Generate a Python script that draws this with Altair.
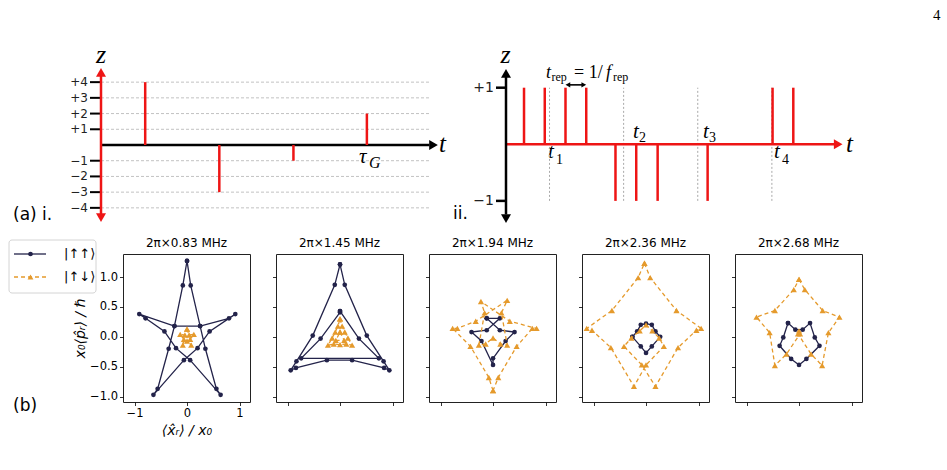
import altair as alt
import pandas as pd

NAVY = "#23234a"
ORANGE = "#e59a2c"
RED = "#ee1515"
SANS = "DejaVu Sans"
SERIF = "Liberation Serif"

# ---------------- (a) i.  one gate: kicks of integer strength ----------------
ki_time = [0.130, 0.348, 0.566, 0.782]
ki_amp = [4, -3, -1, 2]
ki_levels = [-4, -3, -2, -1, 1, 2, 3, 4]

# ---------------- (a) ii. unit kicks on the repetition grid ----------------
kii_time = [0.053, 0.114, 0.175, 0.236, 0.322, 0.383, 0.446, 0.593, 0.784, 0.845]
kii_amp = [1, 1, 1, 1, -1, -1, -1, -1, 1, 1]
kii_marks = [0.128, 0.346, 0.564, 0.782]
kii_levels = [-1, 1]

# ---------------- (b) phase-space trajectories ----------------
freqs = ["0.83", "1.45", "1.94", "2.36", "2.68"]

# |↑↑⟩ (x, y, segment)
uu_x = [
    [0, 0.07, 0.25, 0.35, 0.56, 0.64, 0.06, -0.21, -0.43, -0.79, -0.91, -0.24, 0.25, 0.80, 0.92,
     0.43, 0.20, -0.06, -0.64, -0.56, -0.35, -0.24, -0.08, 0],
    [0, 0.09, 0.51, 0.83, 0.94, 0.84, 0.23, -0.25, -0.84, -0.94, -0.83, -0.52, -0.10, 0,
     0, 0.36, 0.74, -0.74, -0.37, 0, 0],
    [-0.12, 0.13, 0.41, 0.24, 0.0, 0.0, -0.22, -0.41, -0.12, 0.13, -0.12],
    [-0.26, -0.17, -0.10, 0.0, 0.11, 0.18, 0.27, 0.11, 0.0, -0.10, -0.26],
    [-0.21, -0.07, 0.07, 0.21, 0.30, 0.39, 0.14, 0.0, -0.15, -0.37, -0.30, -0.21],
]
uu_y = [
    [1.27, 0.86, 0.18, -0.20, -0.87, -0.97, -0.39, -0.19, 0.09, 0.31, 0.38, 0.18, 0.18, 0.31, 0.38,
     0.09, -0.19, -0.39, -0.97, -0.87, -0.20, 0.18, 0.86, 1.27],
    [1.21, 0.87, 0.02, -0.41, -0.56, -0.52, -0.39, -0.39, -0.52, -0.56, -0.41, 0.02, 0.87, 1.21,
     0.43, -0.03, -0.36, -0.36, -0.03, 0.41, 0.43],
    [0.31, 0.11, 0.08, -0.07, -0.36, -0.47, -0.07, 0.08, 0.11, 0.31, 0.31],
    [0.0, 0.09, 0.20, 0.22, 0.20, 0.09, 0.0, -0.16, -0.27, -0.16, 0.0],
    [0.23, 0.12, 0.12, 0.23, -0.01, -0.15, -0.37, -0.47, -0.37, -0.15, -0.01, 0.23],
]
uu_seg = [
    [0] * 24,
    [0] * 14 + [1] * 7,
    [0] * 11,
    [0] * 11,
    [0] * 12,
]

# |↑↓⟩ (x, y, segment)
ud_x = [
    [0, 0.04, 0.13, 0.06, 0.08, 0, -0.08, -0.06, -0.13, -0.04, 0],
    [0, 0.04, 0.09, 0.15, 0.23, 0.12, 0, -0.12, -0.23, -0.15, -0.09, -0.04, 0,
     0, 0.08, -0.08, 0],
    [0, -0.08, -0.43, -0.77, -0.68, -0.33, 0.27, 0.16, 0.27, 0.14, 0.0, -0.14, -0.27, -0.16, -0.23,
     0.32, 0.83, 0.75, 0.45, 0.10, 0],
    [-0.03, 0.08, 0.58, 1.05, 0.96, 0.61, 0.18, -0.08, -0.42, -0.28, -0.12, 0.0, 0.12, 0.25, 0.34,
     0.0, -0.23, -0.67, -1.03, -1.13, -0.65, -0.15, -0.03],
    [0, 0.11, 0.45, 0.77, 0.56, 0.44, 0.23, -0.02, 0.0, 0.02, -0.24, -0.46, -0.56, -0.81, -0.46,
     -0.10, 0],
]
ud_y = [
    [0.13, 0.03, 0.04, -0.04, -0.14, -0.07, -0.14, -0.04, 0.04, 0.03, 0.13],
    [0.30, 0.18, 0.08, -0.02, -0.14, -0.12, -0.13, -0.12, -0.14, -0.02, 0.08, 0.18, 0.30,
     0.08, -0.06, -0.06, 0.08],
    [-0.90, -0.68, -0.16, 0.14, 0.14, 0.26, 0.61, 0.40, -0.14, -0.12, -0.02, -0.12, -0.14, 0.40, 0.59,
     0.26, 0.14, 0.14, -0.16, -0.68, -0.90],
    [1.23, 0.99, 0.44, 0.14, 0.11, -0.18, -0.83, -0.47, -0.16, -0.02, 0.10, 0.20, 0.10, -0.02, -0.16,
     -0.47, -0.83, -0.18, 0.11, 0.14, 0.44, 0.99, 1.23],
    [0.96, 0.79, 0.44, 0.33, 0.07, -0.48, -0.29, 0.05, 0.10, 0.05, -0.29, -0.48, 0.07, 0.33, 0.44,
     0.79, 0.96],
]
ud_seg = [
    [0] * 11,
    [0] * 13 + [1] * 4,
    [0] * 21,
    [0] * 23,
    [0] * 17,
]

one = pd.DataFrame({"k": [0]})


def xf(f, sc):
    return alt.X(f, type="quantitative", scale=sc, axis=None)


def yf(f, sc):
    return alt.Y(f, type="quantitative", scale=sc, axis=None)


def seg(x0, x1, y0, y1):
    return pd.DataFrame({"x0": [x0], "x1": [x1], "y0": [y0], "y1": [y1]})


def rule(sx, sy, x0, x1, y0, y1, color, width, dash=None):
    kw = dict(color=color, strokeWidth=width)
    if dash:
        kw["strokeDash"] = dash
    return alt.Chart(seg(x0, x1, y0, y1)).mark_rule(**kw).encode(
        x=xf("x0", sx), x2="x1:Q", y=yf("y0", sy), y2="y1:Q")


def head(sx, sy, x, y, shape, color, size=100):
    return alt.Chart(pd.DataFrame({"x": [x], "y": [y]})).mark_point(
        shape=shape, filled=True, size=size, color=color, opacity=1
    ).encode(x=xf("x", sx), y=yf("y", sy))


def note(txt, px, py, size, font=SERIF, style="italic", align="left", baseline="alphabetic"):
    return alt.Chart(one).mark_text(
        text=txt, font=font, fontSize=size, fontStyle=style, align=align,
        baseline=baseline, color="black"
    ).encode(x=alt.value(px), y=alt.value(py))


def sign_label(v):
    return f"+{v}" if v > 0 else f"−{-v}"


# ---------------- top row: both kick diagrams share one wide frame ----------------
TOP_W, TOP_H, UNIT = 842, 154, 340
A0, B0 = 92, 497
XA = alt.Scale(domain=[-A0 / UNIT, (TOP_W - A0) / UNIT], nice=False, zero=False)
YA = alt.Scale(domain=[-4.9, 4.9], nice=False, zero=False)
XB = alt.Scale(domain=[-B0 / UNIT, (TOP_W - B0) / UNIT], nice=False, zero=False)
YB = alt.Scale(domain=[-1.373, 1.348], nice=False, zero=False)

lv_a = pd.DataFrame({"z": ki_levels, "lab": [sign_label(v) for v in ki_levels],
                     "a": 0.0, "b": 0.965})
kick_a = pd.DataFrame({"t": ki_time, "z": ki_amp, "base": 0.0})

a_layers = alt.layer(
    alt.Chart(lv_a).mark_rule(color="#c2c2c2", strokeDash=[3, 2], strokeWidth=1).encode(
        y=yf("z", YA), x=xf("a", XA), x2="b:Q"),
    alt.Chart(lv_a).mark_rule(color="black", strokeWidth=2).encode(
        y=yf("z", YA), x=alt.value(81), x2=alt.value(92)),
    alt.Chart(lv_a).mark_text(align="right", baseline="middle", font=SANS, fontSize=12,
                              color="#222").encode(y=yf("z", YA), x=alt.value(79), text="lab:N"),
    rule(XA, YA, 0, 0.966, 0, 0, "black", 2.5),
    head(XA, YA, 0.978, 0, "triangle-right", "black"),
    rule(XA, YA, 0, 0, -4.4, 4.4, RED, 2.5),
    head(XA, YA, 0, 4.62, "triangle-up", RED),
    head(XA, YA, 0, -4.62, "triangle-down", RED),
    alt.Chart(kick_a).mark_rule(color=RED, strokeWidth=2.5).encode(
        x=xf("t", XA), y=yf("base", YA), y2="z:Q"),
    # corner anchor of the page
    alt.Chart(one).mark_rect(color="white").encode(
        x=alt.value(-8), x2=alt.value(-7), y=alt.value(-67), y2=alt.value(-66)),
    note("4", 924, -48, 15, style="normal"),
    note("(a) i.", 4, 151.5, 17, font=SANS, style="normal"),
    note("ii.", 444, 151, 17, font=SANS, style="normal"),
    note("z", 92, -5, 26, align="center"),
    note("t", 430, 84, 25),
    note("τ", 350, 95, 21),
    note("G", 360, 100, 16),
    note("z", 496.5, -5, 26, align="center"),
    note("t", 837, 84, 25),
    note("t", 539, 90, 21), note("1", 547, 96, 14, style="normal"),
    note("t", 624, 70, 21), note("2", 630, 74, 14, style="normal"),
    note("t", 694, 70, 21), note("3", 700, 74, 14, style="normal"),
    note("t", 765, 90, 21), note("4", 773, 96, 14, style="normal"),
    note("t", 537, 10, 18), note("rep", 542.5, 13, 12, style="normal"),
    note("= 1/", 565, 10, 18, style="normal"),
    note("f", 597, 10, 18), note("rep", 604, 13, 12, style="normal"),
)

lv_b = pd.DataFrame({"z": kii_levels, "lab": [sign_label(v) for v in kii_levels]})
kick_b = pd.DataFrame({"t": kii_time, "z": kii_amp, "base": 0.0})
marks_b = pd.DataFrame({"t": kii_marks, "lo": -1.0, "hi": 1.0})
arr_off = 2.4 / UNIT
arr_y = 1.05

b_layers = alt.layer(
    alt.Chart(marks_b).mark_rule(color="#a9a9a9", strokeDash=[2, 2], strokeWidth=1).encode(
        x=xf("t", XB), y=yf("lo", YB), y2="hi:Q"),
    rule(XB, YB, 0, 0.966, 0, 0, RED, 2.5),
    head(XB, YB, 0.977, 0, "triangle-right", RED),
    alt.Chart(kick_b).mark_rule(color=RED, strokeWidth=2.5).encode(
        x=xf("t", XB), y=yf("base", YB), y2="z:Q"),
    rule(XB, YB, 0, 0, -1.24, 1.2, "black", 2.5),
    head(XB, YB, 0, 1.254, "triangle-up", "black"),
    head(XB, YB, 0, -1.314, "triangle-down", "black"),
    alt.Chart(lv_b).mark_rule(color="black", strokeWidth=2.5).encode(
        y=yf("z", YB), x=alt.value(487), x2=alt.value(497)),
    alt.Chart(lv_b).mark_text(align="right", baseline="middle", font=SANS, fontSize=14,
                              color="#222").encode(y=yf("z", YB), x=alt.value(485), text="lab:N"),
    rule(XB, YB, kii_time[2] + arr_off, kii_time[3] - arr_off, arr_y, arr_y, "black", 1.6),
    head(XB, YB, kii_time[2] + arr_off, arr_y, "triangle-left", "black", 30),
    head(XB, YB, kii_time[3] - arr_off, arr_y, "triangle-right", "black", 30),
)

top = alt.layer(a_layers, b_layers).resolve_scale(
    x="independent", y="independent"
).properties(width=TOP_W, height=TOP_H)

# ---------------- bottom row ----------------
PX = alt.Scale(domain=[-1.22, 1.2], nice=False, zero=False)
PY = alt.Scale(domain=[-1.09, 1.385], nice=False, zero=False)


def traj_df(xs, ys, segs):
    return pd.DataFrame({"x": xs, "y": ys, "seg": segs, "ord": list(range(len(xs)))})


def panel(i):
    first = i == 0
    common = dict(labels=first, ticks=True, tickSize=3.5, tickColor="black", tickWidth=0.8,
                  domain=False, grid=False, labelFont=SANS, labelFontSize=11.5,
                  labelColor="black", labelPadding=2, titleFont=SANS, titleFontSize=14,
                  titleFontWeight="normal", titleFontStyle="italic", titleColor="black")
    AX = alt.Axis(values=[-1, 0, 1], format="d", titlePadding=4,
                  title="⟨x̂ᵣ⟩ / x₀" if first else "", **common)
    AY = alt.Axis(values=[-1, -0.5, 0, 0.5, 1], format=".1f", titlePadding=2,
                  title="x₀⟨p̂ᵣ⟩ / ℏ" if first else "", **common)

    def enc(ch):
        return ch.encode(x=alt.X("x:Q", scale=PX, axis=AX), y=alt.Y("y:Q", scale=PY, axis=AY))

    uu = traj_df(uu_x[i], uu_y[i], uu_seg[i])
    ud = traj_df(ud_x[i], ud_y[i], ud_seg[i])
    layers = alt.layer(
        enc(alt.Chart(uu).mark_line(color=NAVY, strokeWidth=1.3)).encode(
            detail="seg:N", order="ord:Q"),
        enc(alt.Chart(uu).mark_point(shape="circle", filled=True, size=22, color=NAVY,
                                     opacity=1)),
        enc(alt.Chart(ud).mark_line(color=ORANGE, strokeWidth=1.3, strokeDash=[4, 3])).encode(
            detail="seg:N", order="ord:Q"),
        enc(alt.Chart(ud).mark_point(shape="triangle-up", filled=True, size=38, color=ORANGE,
                                     opacity=1)),
    )
    return layers.properties(
        width=127, height=148,
        title=alt.TitleParams(text=f"2π×{freqs[i]} MHz", font=SANS, fontSize=12,
                              fontWeight="normal", color="black", offset=4),
        view=alt.ViewBackground(stroke="#222", strokeWidth=1),
    )


legend = alt.layer(
    alt.Chart(one).mark_rect(fill="white", stroke="#d4d4d4", strokeWidth=1, cornerRadius=3).encode(
        x=alt.value(0), x2=alt.value(87), y=alt.value(-14), y2=alt.value(39)),
    alt.Chart(one).mark_rule(color=NAVY, strokeWidth=1.3).encode(
        x=alt.value(5), x2=alt.value(37), y=alt.value(0)),
    alt.Chart(one).mark_point(shape="circle", filled=True, size=22, color=NAVY, opacity=1).encode(
        x=alt.value(21.5), y=alt.value(0)),
    alt.Chart(one).mark_rule(color=ORANGE, strokeWidth=1.3, strokeDash=[4, 3]).encode(
        x=alt.value(5), x2=alt.value(37), y=alt.value(23)),
    alt.Chart(one).mark_point(shape="triangle-up", filled=True, size=34, color=ORANGE,
                              opacity=1).encode(x=alt.value(21.5), y=alt.value(23)),
    note("|↑↑⟩", 55, 0, 13, font=SANS, style="normal", baseline="middle"),
    note("|↑↓⟩", 55, 23, 13, font=SANS, style="normal", baseline="middle"),
    note("(b)", 4, 157, 17, font=SANS, style="normal"),
).properties(width=88, height=148)

bottom = alt.hconcat(legend, *[panel(i) for i in range(5)], spacing=26, bounds="flush")

chart = alt.vconcat(top, bottom, spacing=32, bounds="flush").properties(
    padding=0
).configure_view(stroke="transparent")

chart.save("out.html", embed_options={"renderer": "svg", "actions": False})
